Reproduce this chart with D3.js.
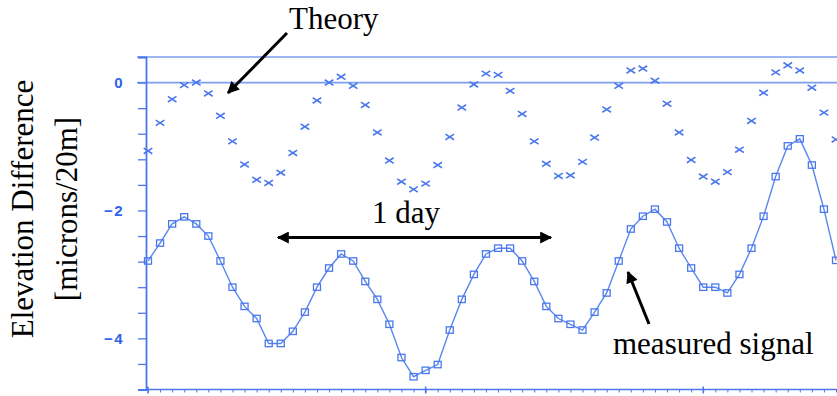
<!DOCTYPE html>
<html>
<head>
<meta charset="utf-8">
<script src="https://cdn.jsdelivr.net/npm/d3@7"></script>
<style>
  body { margin: 0; background: #fff; }
  svg { display: block; }
</style>
</head>
<body>
<div id="chart"></div>
<script>
// hourly samples (index along the time axis)
const hours = d3.range(58);

// theory curve (x markers), microns/20m
const theory = [
  -1.07, -0.63, -0.26, -0.04, 0.00, -0.17, -0.52, -0.92, -1.28, -1.52,
  -1.57, -1.41, -1.10, -0.69, -0.28, 0.00, 0.09, -0.05, -0.35, -0.78,
  -1.22, -1.55, -1.67, -1.58, -1.29, -0.85, -0.39, -0.03, 0.14, 0.12,
  -0.13, -0.49, -0.92, -1.27, -1.46, -1.45, -1.24, -0.86, -0.42, -0.05,
  0.19, 0.22, 0.03, -0.33, -0.78, -1.21, -1.47, -1.55, -1.40, -1.05,
  -0.60, -0.16, 0.16, 0.27, 0.19, -0.08, -0.47, -0.89
];

// measured signal (square markers)
const measured = [
  -2.79, -2.51, -2.21, -2.10, -2.21, -2.40, -2.79, -3.20, -3.50, -3.69,
  -4.08, -4.08, -3.89, -3.59, -3.20, -2.90, -2.68, -2.79, -3.11, -3.39,
  -3.78, -4.30, -4.60, -4.50, -4.41, -3.87, -3.39, -3.00, -2.68, -2.59,
  -2.59, -2.79, -3.11, -3.50, -3.69, -3.78, -3.87, -3.59, -3.29, -2.79,
  -2.29, -2.09, -1.98, -2.18, -2.59, -2.90, -3.20, -3.20, -3.29, -3.00,
  -2.59, -2.09, -1.47, -0.99, -0.88, -1.29, -1.98, -2.78
];

const yTicks = [0.4, 0, -0.4, -0.8, -1.2, -1.6, -2, -2.4, -2.8, -3.2, -3.6, -4, -4.4, -4.8];
const yLabelled = [0, -2, -4];
const xMajor = [0, 23, 46];

const width = 837, height = 396;
const blue = "#4a78ec";
const lightBlue = "#7d9ff2";

const svg = d3.select("#chart").append("svg")
    .attr("width", width)
    .attr("height", height);

const x = d3.scaleLinear().domain([0, 57]).range([148, 836]);
const y = d3.scaleLinear().domain([-4.8, 0.4]).range([389.5, 57]);

// top border and zero line
svg.append("line")
    .attr("x1", 137).attr("x2", width)
    .attr("y1", y(0.4)).attr("y2", y(0.4))
    .attr("stroke", lightBlue).attr("stroke-width", 1.6);
svg.append("line")
    .attr("x1", 137).attr("x2", width)
    .attr("y1", y(0)).attr("y2", y(0))
    .attr("stroke", lightBlue).attr("stroke-width", 1.6);

// y axis
const yAxis = svg.append("g")
    .attr("transform", "translate(146,0)")
    .call(d3.axisLeft(y)
        .tickValues(yTicks)
        .tickSize(8)
        .tickPadding(14)
        .tickFormat(d => yLabelled.includes(d) ? (d === 0 ? "0" : "\u2212" + Math.abs(d)) : ""));
yAxis.select(".domain").attr("stroke", blue).attr("stroke-width", 1.8);
yAxis.selectAll(".tick line").attr("stroke", blue).attr("stroke-width", 1.3);
yAxis.selectAll(".tick text")
    .attr("fill", "#2f62e8")
    .attr("font-family", "Liberation Sans, Arial, sans-serif")
    .attr("font-weight", "bold")
    .attr("font-size", 15)
    .attr("letter-spacing", 1.5);

// x axis: minor ticks every sample, longer ticks each 23 samples
const xAxis = svg.append("g")
    .attr("transform", "translate(0," + y(-4.8) + ")")
    .call(d3.axisBottom(x).tickValues(hours).tickSize(3).tickFormat(""));
xAxis.select(".domain").attr("stroke", blue).attr("stroke-width", 1.6)
    .attr("d", "M146,0H" + width);
xAxis.selectAll(".tick line").attr("stroke", blue).attr("stroke-width", 1);
xAxis.selectAll("line.major")
    .data(xMajor)
    .enter().append("line")
    .attr("class", "major")
    .attr("x1", d => x(d)).attr("x2", d => x(d))
    .attr("y1", -3).attr("y2", 4)
    .attr("stroke", blue).attr("stroke-width", 1.5);

// theory: x markers
svg.append("g").selectAll("path")
    .data(theory)
    .enter().append("path")
    .attr("transform", (d, i) => `translate(${x(hours[i])},${y(d)})`)
    .attr("d", "M-4.3,-2.8L4.3,2.8M-4.3,2.8L4.3,-2.8")
    .attr("fill", "none")
    .attr("stroke", blue)
    .attr("stroke-width", 1.6);

// measured: line + squares
const line = d3.line()
    .x((d, i) => x(hours[i]))
    .y(d => y(d));
svg.append("path")
    .datum(measured)
    .attr("d", line)
    .attr("fill", "none")
    .attr("stroke", "#5a86ef")
    .attr("stroke-width", 1.4);
svg.append("g").selectAll("rect")
    .data(measured)
    .enter().append("rect")
    .attr("x", (d, i) => x(hours[i]) - 3.5)
    .attr("y", d => y(d) - 3.2)
    .attr("width", 7)
    .attr("height", 6.4)
    .attr("fill", "none")
    .attr("stroke", blue)
    .attr("stroke-width", 1.3);

// annotations
const serif = "Liberation Serif, Times New Roman, serif";
svg.append("defs").append("marker")
    .attr("id", "head")
    .attr("viewBox", "0 0 10 10")
    .attr("refX", 9).attr("refY", 5)
    .attr("markerWidth", 5).attr("markerHeight", 4)
    .attr("markerUnits", "strokeWidth")
    .attr("orient", "auto-start-reverse")
    .append("path")
    .attr("d", "M0,0L10,5L0,10Z")
    .attr("fill", "#000");

function arrow(x1, y1, x2, y2, both) {
    const a = svg.append("line")
        .attr("x1", x1).attr("y1", y1).attr("x2", x2).attr("y2", y2)
        .attr("stroke", "#000").attr("stroke-width", 3)
        .attr("marker-end", "url(#head)");
    if (both) a.attr("marker-start", "url(#head)");
}

arrow(287, 33, 228, 93, false);
arrow(278, 237.5, 551, 237.5, true);
arrow(649, 324, 628, 272, false);

svg.append("text").attr("x", 289).attr("y", 29)
    .attr("font-family", serif).attr("font-size", 31).text("Theory");
svg.append("text").attr("x", 372).attr("y", 223)
    .attr("font-family", serif).attr("font-size", 31).text("1 day");
svg.append("text").attr("x", 613).attr("y", 354)
    .attr("font-family", serif).attr("font-size", 31).text("measured signal");

const yTitle = svg.append("text")
    .attr("transform", "translate(0,209) rotate(-90)")
    .attr("text-anchor", "middle")
    .attr("font-family", serif).attr("font-size", 31);
yTitle.append("tspan").attr("x", 0).attr("y", 33).text("Elevation Difference");
yTitle.append("tspan").attr("x", 0).attr("y", 77).text("[microns/20m]");
</script>
</body>
</html>
